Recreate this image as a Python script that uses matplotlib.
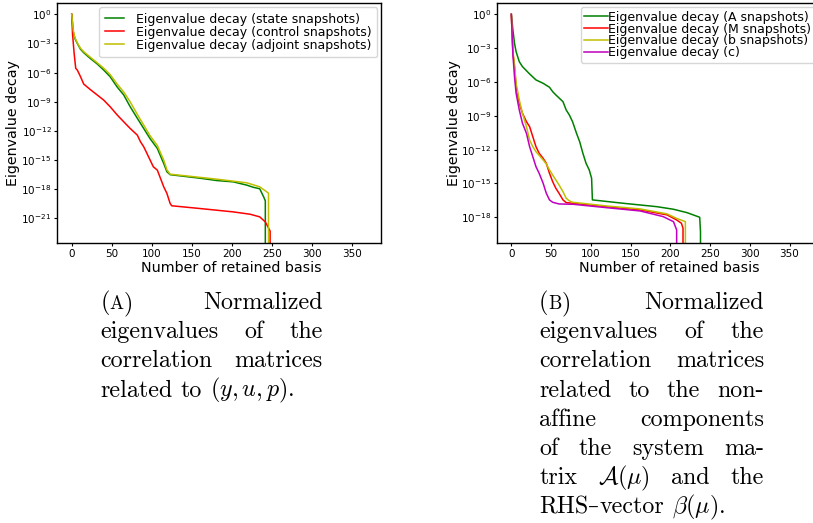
import numpy as np
import matplotlib
matplotlib.use("Agg")
import matplotlib.pyplot as plt
from matplotlib.ticker import FixedLocator, NullLocator

# ---------------- data (index of retained basis, log10 of normalized eigenvalue) ----------------
state_x = [0, 2, 4, 7, 11, 15, 23, 32, 40, 48, 57, 65, 73, 82, 90, 98, 107, 115, 119, 123,
           160, 181, 202, 219, 227, 235, 240, 242]
state_exp = [0, -1.8, -2.5, -3.0, -3.6, -3.95, -4.53, -5.12, -5.74, -6.42, -7.5, -8.3, -9.5,
             -10.7, -11.75, -12.8, -13.8, -15.35, -16.2, -16.5, -16.86, -17.1, -17.24, -17.58,
             -17.8, -17.95, -18.8, -19.2]
state_last = 243

control_x = [0, 1, 3, 5, 7, 11, 15, 23, 32, 40, 48, 57, 65, 73, 82, 86, 90, 94, 98, 102, 107,
             111, 115, 119, 123, 125, 160, 202, 223, 235, 242, 248]
control_exp = [0, -2.0, -4.0, -5.56, -5.74, -6.42, -7.18, -7.73, -8.31, -8.83, -9.51, -10.37,
               -11.06, -11.74, -12.43, -13.12, -13.63, -14.31, -15.0, -15.69, -16.03, -16.89,
               -17.75, -18.43, -19.46, -19.7, -19.98, -20.33, -20.57, -20.84, -21.36, -22.3]
control_last = 250

adjoint_x = [0, 2, 4, 7, 11, 15, 23, 32, 40, 48, 57, 65, 73, 82, 90, 98, 107, 115, 119, 123,
             181, 219, 235, 246]
adjoint_exp = [0, -1.7, -2.4, -2.95, -3.5, -3.85, -4.4, -5.0, -5.55, -6.2, -7.2, -8.0, -9.0,
               -10.3, -11.4, -12.5, -13.5, -15.0, -16.0, -16.45, -16.96, -17.34, -17.75, -18.4]
adjoint_last = 248

A_x = [0, 2, 4, 6, 10, 14, 23, 31, 40, 48, 52, 56, 65, 69, 73, 77, 82, 86, 90, 94, 98, 101,
       102, 141, 183, 204, 221, 237, 238]
A_exp = [0, -1.39, -2.57, -3.31, -4.2, -4.64, -5.29, -5.82, -6.12, -6.47, -6.86, -7.15, -7.75,
         -8.48, -8.93, -9.52, -10.55, -11.3, -12.32, -13.21, -13.8, -14.54, -16.46, -16.76,
         -17.06, -17.29, -17.59, -18.0, -19.27]
A_last = 239

M_x = [0, 2, 4, 6, 10, 14, 19, 23, 27, 31, 35, 40, 44, 48, 52, 56, 60, 65, 69, 78, 120, 162,
       196, 208, 214, 216]
M_exp = [0, -3.4, -4.64, -6.42, -7.89, -8.78, -9.52, -9.96, -10.85, -11.74, -12.32, -12.77,
         -13.21, -14.1, -14.84, -15.43, -15.87, -16.46, -16.7, -16.76, -17.06, -17.35, -17.79,
         -18.24, -18.53, -18.97]
M_last = 217

b_x = [0, 2, 4, 6, 10, 14, 19, 23, 27, 31, 40, 44, 48, 52, 56, 60, 65, 69, 73, 77, 120, 162,
       196, 208, 219]
b_exp = [0, -3.3, -4.5, -6.12, -7.6, -8.78, -9.96, -11.14, -11.74, -12.18, -12.92, -13.27,
         -13.8, -14.25, -14.69, -15.13, -15.73, -16.31, -16.55, -16.67, -17.0, -17.26, -17.7,
         -18.1, -18.39]
b_last = 220

c_x = [0, 2, 4, 6, 10, 14, 19, 23, 27, 31, 35, 40, 44, 48, 52, 60, 78, 120, 162, 191, 204, 208]
c_exp = [0, -3.6, -5.53, -7.0, -8.48, -9.66, -10.55, -11.74, -12.62, -13.51, -14.1, -14.98,
         -15.87, -16.46, -16.67, -16.82, -16.85, -17.15, -17.44, -17.94, -18.39, -19.12]
c_last = 209

left_labels = ["Eigenvalue decay (state snapshots)", "Eigenvalue decay (control snapshots)",
               "Eigenvalue decay (adjoint snapshots)"]
right_labels = ["Eigenvalue decay (A snapshots)", "Eigenvalue decay (M snapshots)",
                "Eigenvalue decay (b snapshots)", "Eigenvalue decay (c)"]
x_ticks = [0, 50, 100, 150, 200, 250, 300, 350]
left_yticks = [1e0, 1e-3, 1e-6, 1e-9, 1e-12, 1e-15, 1e-18, 1e-21]
right_yticks = [1e0, 1e-3, 1e-6, 1e-9, 1e-12, 1e-15, 1e-18]
xlabel = "Number of retained basis"
ylabel = "Eigenvalue decay"


def series(xs, exps, last):
    # eigenvalues after `last` are numerically zero
    return np.array(xs + [last]), np.append(10.0 ** np.array(exps, dtype=float), 0.0)


W, H = 813, 523
fig = plt.figure(figsize=(W / 100, H / 100), dpi=100)


def px_axes(l, t, r, b):
    return fig.add_axes([l / W, 1 - b / H, (r - l) / W, (b - t) / H])


ax1 = px_axes(57, 3.3, 381, 243.2)
ax2 = px_axes(496.7, 3.3, 818.6, 243.2)

lw = 1.1
for ax, data, labels, colors in [
    (ax1, [(state_x, state_exp, state_last), (control_x, control_exp, control_last),
           (adjoint_x, adjoint_exp, adjoint_last)], left_labels, ["g", "r", "y"]),
    (ax2, [(A_x, A_exp, A_last), (M_x, M_exp, M_last), (b_x, b_exp, b_last),
           (c_x, c_exp, c_last)], right_labels, ["g", "r", "y", "m"]),
]:
    for (xs, es, last), lab, col in zip(data, labels, colors):
        x, y = series(xs, es, last)
        ax.plot(x, y, color=col, lw=lw, label=lab)
    ax.set_yscale("log", nonpositive="clip")

ax1.set_ylim(10 ** -23.55, 10 ** 1.13)
ax2.set_ylim(10 ** -20.3, 10 ** 0.975)
for ax, yt, lp in [(ax1, left_yticks, 1.0), (ax2, right_yticks, 0.0)]:
    ax.set_xlim(-18.4, 386.6)
    ax.xaxis.set_major_locator(FixedLocator(x_ticks))
    ax.yaxis.set_major_locator(FixedLocator(yt))
    ax.yaxis.set_minor_locator(NullLocator())
    ax.tick_params(labelsize=7.5, length=2.5, pad=1.5, width=0.8)
    for s in ax.spines.values():
        s.set_linewidth(1.0)
    ax.set_ylabel(ylabel, fontsize=10.3, labelpad=lp)
    ax.set_xlabel(xlabel, fontsize=10.3)
    ax.xaxis.set_label_coords(0.537, -0.074)

ax1.legend(loc="upper right", fontsize=9, labelspacing=0.0, handlelength=1.5,
           handletextpad=1.0, borderpad=0.45, borderaxespad=0.3)
ax2.legend(loc="upper right", fontsize=9, labelspacing=-0.1, handlelength=1.9,
           handletextpad=0.0, borderpad=0.3, borderaxespad=0.3)

# ---------------- captions ----------------
cap_family = ["cmr10", "DejaVu Serif"]
cap_size = 17.3
renderer = fig.canvas.get_renderer()


def make_word(word):
    # word: str or list of (text, size factor[, family])
    pieces = [(word, 1.0)] if isinstance(word, str) else word
    ts = []
    for p in pieces:
        s, f = p[0], p[1]
        fam = p[2] if len(p) > 2 else cap_family
        t = fig.text(0, 0, s, fontsize=cap_size * f, family=fam,
                     math_fontfamily="cm", ha="left", va="baseline")
        ts.append(t)
    widths = [t.get_window_extent(renderer=renderer).width for t in ts]
    return ts, widths


def place_word(ts, widths, x, y):
    for t, w in zip(ts, widths):
        t.set_position((x / W, 1 - y / H))
        x += w
    return x


def caption_line(words, x0, x1, y, justify=True):
    made = [make_word(w) for w in words]
    total = sum(sum(w) for _, w in made)
    if justify and len(made) > 1:
        gap = (x1 - x0 - total) / (len(made) - 1)
    else:
        gap = 0.333 * cap_size * 100 / 72
    x = x0
    for ts, ws in made:
        x = place_word(ts, ws, x, y) + gap


capA = [
    ([[("(", 1.0), ("A", 0.78), (")", 1.0)], "Normalized"], True),
    (["eigenvalues", "of", "the"], True),
    (["correlation", "matrices"], True),
    (["related", "to", r"$(y,u,p)$."], False),
]
capB = [
    ([[("(", 1.0), ("B", 0.78), (")", 1.0)], "Normalized"], True),
    (["eigenvalues", "of", "the"], True),
    (["correlation", "matrices"], True),
    (["related", "to", "the", "non-"], True),
    (["affine", "components"], True),
    (["of", "the", "system", "ma-"], True),
    (["trix", r"$\mathcal{A}(\mu)$", "and", "the"], True),
    ([[("RHS", 1.0), ("\u2013", 0.9, "DejaVu Serif"), ("vector", 1.0)],
      r"$\beta(\mu)$."], False),
]
base0, step = 309.0, 29.2
for i, (words, just) in enumerate(capA):
    caption_line(words, 100.5, 322.5, base0 + i * step, just)
for i, (words, just) in enumerate(capB):
    caption_line(words, 539.0, 764.0, base0 + i * step, just)

fig.savefig("out.png", dpi=100)
